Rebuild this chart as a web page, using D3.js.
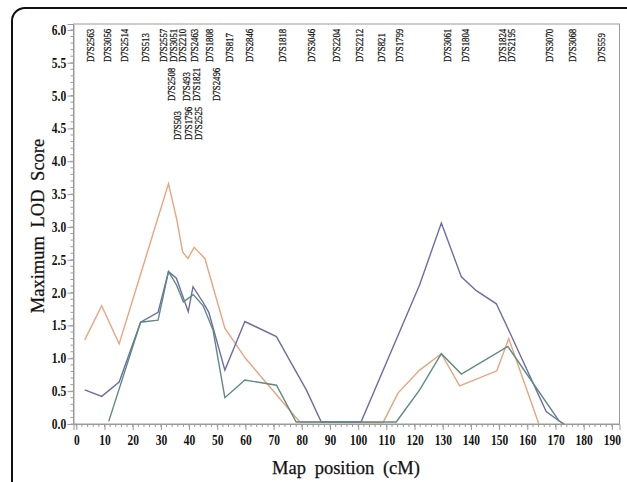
<!DOCTYPE html>
<html>
<head>
<meta charset="utf-8">
<script src="https://cdn.jsdelivr.net/npm/d3@7.9.0/dist/d3.min.js"></script>
<style>
  body { margin: 0; background: #fff; }
  svg { display: block; }
  .tick text { font-family: "Liberation Serif", serif; font-weight: bold; font-size: 14px; fill: #111; }
  .title { font-family: "Liberation Serif", serif; font-size: 18.5px; fill: #111; stroke: #111; stroke-width: 0.25px; }
  .marker { font-family: "Liberation Serif", serif; font-size: 10px; fill: #111; stroke: #111; stroke-width: 0.25px; }
</style>
</head>
<body>
<svg width="627" height="482"></svg>
<script>
// marker names on top (three rows) and their map position in cM
const markerRow1 = ["D7S2563","D7S3056","D7S2514","D7S513","D7S2557","D7S3051","D7S2210","D7S2463","D7S1808","D7S817","D7S2846","D7S1818","D7S3046","D7S2204","D7S2212","D7S821","D7S1799","D7S3061","D7S1804","D7S1824","D7S2195","D7S3070","D7S3068","D7S559"];
const markerRow1Pos = [5.0,11.0,17.2,24.6,30.8,34.3,37.6,42.0,47.3,54.4,61.5,73.3,83.6,92.3,100.3,108.2,114.7,131.8,138.1,151.3,154.5,167.9,175.9,186.2];
const markerRow2 = ["D7S2508","D7S493","D7S1821","D7S2496"];
const markerRow2Pos = [33.8,39.1,42.6,49.7];
const markerRow3 = ["D7S503","D7S1796","D7S2525"];
const markerRow3Pos = [35.8,39.7,43.5];

// LOD curves, [cM, LOD]
const orangeCurve = [[3,1.28],[9,1.80],[15.2,1.22],[32.7,3.66],[35.7,3.1],[37.7,2.62],[39.6,2.52],[41.8,2.69],[45.6,2.52],[52.7,1.46],[60,1.0],[75.7,0.21],[79.3,0.03],[108.8,0.02],[114.1,0.47],[121.8,0.82],[129.5,1.07],[136,0.58],[149.2,0.81],[153.4,1.30],[164.1,0]];
const blueCurve = [[3,0.52],[9,0.42],[15.2,0.64],[22.8,1.55],[29,1.70],[32.7,2.32],[35.5,2.22],[39.7,1.71],[41.4,2.09],[45,1.85],[47,1.7],[52.7,0.82],[59.8,1.56],[71,1.33],[75.7,0.97],[81.6,0.52],[86.9,0.03],[101,0.03],[121.8,2.12],[129.5,3.06],[136.6,2.24],[141.9,2.03],[149,1.83],[153.7,1.40],[166.7,0.19],[171.2,0.05],[173,0]];
const greenCurve = [[11.5,0.04],[22.8,1.55],[29,1.58],[32.7,2.32],[35.5,2.12],[38,1.86],[41.5,1.97],[45,1.8],[48.5,1.43],[52.7,0.40],[59.8,0.67],[71,0.59],[78,0.03],[113.5,0.03],[121.8,0.52],[129.5,1.07],[136.6,0.76],[153.1,1.18],[171.2,0.05],[173,0]];

const xTicks = d3.range(0, 191, 10);
const yTicks = d3.range(0, 6.01, 0.5);

let svg = d3.select('svg');

// outer rounded frame (runs off the right/bottom edge)
svg.append('rect')
  .attr('x', 12).attr('y', 8)
  .attr('width', 660).attr('height', 520)
  .attr('rx', 13)
  .attr('fill', 'none')
  .attr('stroke', '#111')
  .attr('stroke-width', 2);

let x = d3.scaleLinear().domain([-1, 192.7]).range([73.5, 619.5]);
let y = d3.scaleLinear().domain([0, 6.09]).range([424, 24]);

// plot frame
svg.append('rect')
  .attr('x', x.range()[0]).attr('y', y.range()[1])
  .attr('width', x.range()[1] - x.range()[0])
  .attr('height', y.range()[0] - y.range()[1])
  .attr('fill', 'none')
  .attr('stroke', '#9a9a9a');

// minor ticks
let gx = svg.append('g').attr('transform', `translate(0,${y(0)})`);
gx.selectAll('line.minor')
  .data(d3.range(0, 192, 2))
  .join('line')
  .attr('x1', d => x(d)).attr('x2', d => x(d))
  .attr('y1', 0).attr('y2', 3)
  .attr('stroke', '#9a9a9a');
let gy = svg.append('g').attr('transform', `translate(${x.range()[0]},0)`);
gy.selectAll('line.minor')
  .data(d3.range(0, 6.05, 0.1))
  .join('line')
  .attr('y1', d => y(d)).attr('y2', d => y(d))
  .attr('x1', 0).attr('x2', -3)
  .attr('stroke', '#9a9a9a');

gx.append('g')
  .call(d3.axisBottom(x).tickValues(xTicks).tickSize(6).tickPadding(5).tickFormat(d3.format('d')))
  .call(g => g.select('.domain').attr('stroke', '#9a9a9a'))
  .call(g => g.selectAll('.tick line').attr('stroke', '#9a9a9a'))
  .call(g => g.selectAll('.tick text').attr('transform', 'scale(0.82,1)'));

gy.append('g')
  .call(d3.axisLeft(y).tickValues(yTicks).tickSize(6).tickPadding(3).tickFormat(d3.format('.1f')))
  .call(g => g.select('.domain').attr('stroke', '#9a9a9a'))
  .call(g => g.selectAll('.tick line').attr('stroke', '#9a9a9a'))
  .call(g => g.selectAll('.tick text').attr('transform', 'scale(0.82,1)'));

// axis titles
svg.append('text')
  .attr('class', 'title')
  .attr('transform', 'translate(44,226) rotate(-90)')
  .attr('text-anchor', 'middle')
  .attr('word-spacing', '4px')
  .text('Maximum LOD Score');
svg.append('text')
  .attr('class', 'title')
  .attr('x', 346).attr('y', 474)
  .attr('text-anchor', 'middle')
  .attr('word-spacing', '4px')
  .text('Map position (cM)');

// lines
let line = d3.line().x(d => x(d[0])).y(d => y(d[1]));
[[orangeCurve, '#e8a47e'], [blueCurve, '#6c6ca6'], [greenCurve, '#5e8a82']].forEach(([data, color]) => {
  svg.append('path')
    .attr('d', line(data))
    .attr('fill', 'none')
    .attr('stroke', color)
    .attr('stroke-width', 1.4);
});

// marker labels, rotated, bottom aligned per row
function drawMarkers(names, pos, bottom) {
  svg.append('g').selectAll('text')
    .data(names)
    .join('text')
    .attr('class', 'marker')
    .attr('transform', (d, i) => `translate(${x(pos[i]) + 3.5},${bottom}) rotate(-90) scale(0.88,1)`)
    .text(d => d);
}
drawMarkers(markerRow1, markerRow1Pos, 62);
drawMarkers(markerRow2, markerRow2Pos, 101);
drawMarkers(markerRow3, markerRow3Pos, 140);
</script>
</body>
</html>
